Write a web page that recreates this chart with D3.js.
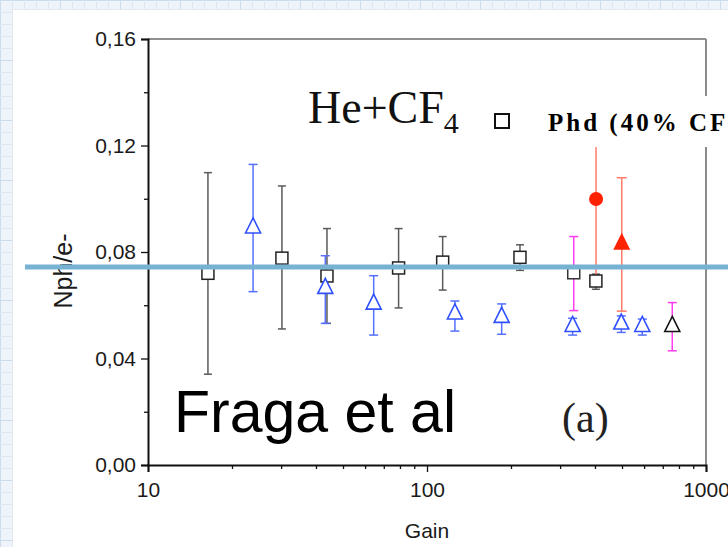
<!DOCTYPE html>
<html>
<head>
<meta charset="utf-8">
<script src="https://cdn.jsdelivr.net/npm/d3@7"></script>
<style>
  body { margin: 0; background: #fff; }
  svg { display: block; }
</style>
</head>
<body>
<svg id="viz" width="728" height="547"></svg>
<script>
// Nph/e- vs Gain (He+CF4)
const yTicks = [0, 0.04, 0.08, 0.12, 0.16];
const yMinor = [0.02, 0.06, 0.10, 0.14];
const xTicks = [10, 100, 1000];
const xMinor = [20, 30, 40, 50, 60, 70, 80, 90, 200, 300, 400, 500, 600, 700, 800, 900];

// black open squares, grey error bars
const sqGain = [16.4, 30.2, 43.8, 79.1, 113.8, 215.4, 403];
const sqVal  = [0.0720, 0.0777, 0.0710, 0.0740, 0.0762, 0.0780, 0.0691];
const sqLo   = [0.0341, 0.0511, 0.0532, 0.0590, 0.0657, 0.0731, 0.0660];
const sqHi   = [0.1098, 0.1048, 0.0888, 0.0888, 0.0858, 0.0827, 0.0717];

// blue open triangles
const triGain = [23.8, 43.2, 64.4, 125.9, 185.2, 332.6, 497, 591];
const triVal  = [0.0893, 0.0666, 0.0607, 0.0570, 0.0557, 0.0523, 0.0532, 0.0523];
const triLo   = [0.0651, 0.0532, 0.0488, 0.0503, 0.0491, 0.0488, 0.0498, 0.0488];
const triHi   = [0.1129, 0.0786, 0.0711, 0.0616, 0.0605, 0.0551, 0.0560, 0.0548];

// magenta error bars: square at 336, black triangle at 757
const magGain = [335.7, 757];
const magVal  = [0.0722, 0.0523];
const magLo   = [0.0580, 0.0429];
const magHi   = [0.0858, 0.0610];
const magSym  = ["square", "triangle"];

// red filled points
const redGain = [403.6, 499];
const redVal  = [0.0999, 0.0833];
const redLo   = [0.0701, 0.0578];
const redHi   = [0.1200, 0.1079];
const redSym  = ["circle", "triangle"];

const refLine = 0.0744;

const svg = d3.select("#viz");
const W = 728, H = 547;
const sans = "Liberation Sans, Arial, sans-serif";
const serif = "Liberation Serif, Times New Roman, serif";

// graph paper background
const defs = svg.append("defs");
const pat = defs.append("pattern").attr("id", "grid")
  .attr("width", 60).attr("height", 60).attr("patternUnits", "userSpaceOnUse");
pat.append("rect").attr("width", 60).attr("height", 60).attr("fill", "#eef4f9");
for (let i = 0; i < 60; i += 12) {
  const c = i === 0 ? "#c9dcec" : "#dbe7f1";
  pat.append("line").attr("x1", i + 0.5).attr("x2", i + 0.5).attr("y1", 0).attr("y2", 60).attr("stroke", c);
  pat.append("line").attr("y1", i + 0.5).attr("y2", i + 0.5).attr("x1", 0).attr("x2", 60).attr("stroke", c);
}
svg.append("rect").attr("width", W).attr("height", H).attr("fill", "url(#grid)");
svg.append("rect").attr("x", 12).attr("y", 9).attr("width", W).attr("height", H)
  .attr("fill", "#e4e8ec");
svg.append("rect").attr("x", 13).attr("y", 10).attr("width", W).attr("height", H)
  .attr("fill", "#fff");

const x = d3.scaleLog().domain([10, 1000]).range([148, 706]);
const y = d3.scaleLinear().domain([0, 0.16]).range([465, 39]);

const fmt = d => d3.format(".2f")(d).replace(".", ",");

// frame top / right
svg.append("line").attr("x1", x(10)).attr("x2", x(1000)).attr("y1", y(0.16)).attr("y2", y(0.16))
  .attr("stroke", "#222").attr("stroke-width", 1.2);
svg.append("line").attr("x1", x(1000)).attr("x2", x(1000)).attr("y1", y(0.16)).attr("y2", y(0))
  .attr("stroke", "#8a8a8a").attr("stroke-width", 2);

// axes
svg.append("g").attr("transform", `translate(${x(10)},0)`)
  .call(d3.axisLeft(y).tickValues(yTicks).tickFormat(fmt).tickSize(7).tickPadding(5));
svg.append("g").attr("transform", `translate(${x(10)},0)`)
  .call(d3.axisLeft(y).tickValues(yMinor).tickFormat("").tickSize(4))
  .select(".domain").remove();
svg.append("g").attr("transform", `translate(0,${y(0)})`)
  .call(d3.axisBottom(x).tickValues(xTicks).tickFormat(d3.format("d")).tickSize(7).tickPadding(10));
svg.append("g").attr("transform", `translate(0,${y(0)})`)
  .call(d3.axisBottom(x).tickValues(xMinor).tickFormat("").tickSize(4))
  .select(".domain").remove();

svg.selectAll(".domain").attr("stroke", "#111").attr("stroke-width", 2);
svg.selectAll(".tick line").attr("stroke", "#111").attr("stroke-width", 1.3);
svg.selectAll(".tick text").attr("font-family", sans)
  .attr("font-size", 21).attr("fill", "#1a1a1a");

// axis titles
svg.append("text").attr("x", x(100)).attr("y", 538).attr("text-anchor", "middle")
  .attr("font-family", sans).attr("font-size", 21).attr("fill", "#1a1a1a")
  .text("Gain");
svg.append("text").attr("transform", "translate(72,271) rotate(-90)").attr("text-anchor", "middle")
  .attr("font-family", sans).attr("font-size", 25).attr("fill", "#1a1a1a")
  .text("Nph/e-");

// error bar helper
function errBars(gain, lo, hi, color, cap) {
  const g = svg.append("g").attr("stroke", color).attr("stroke-width", 1.5);
  gain.forEach((d, i) => {
    const cx = x(d);
    g.append("line").attr("x1", cx).attr("x2", cx).attr("y1", y(lo[i])).attr("y2", y(hi[i]));
    [lo[i], hi[i]].forEach(v => {
      g.append("line").attr("x1", cx - cap).attr("x2", cx + cap).attr("y1", y(v)).attr("y2", y(v));
    });
  });
}

const triPath = s => `M0,${-s * 0.62}L${s / 2},${s * 0.38}L${-s / 2},${s * 0.38}Z`;

errBars(sqGain, sqLo, sqHi, "#5a5a5a", 4);
errBars(triGain, triLo, triHi, "#5570ff", 4.5);
errBars(magGain, magLo, magHi, "#ff3cf0", 4.5);
errBars(redGain, redLo, redHi, "#ff7a6a", 5);

// markers
svg.append("g").selectAll("rect").data(sqGain).join("rect")
  .attr("x", d => x(d) - 6).attr("y", (d, i) => y(sqVal[i]) - 6)
  .attr("width", 12).attr("height", 12)
  .attr("fill", "#fff").attr("stroke", "#222").attr("stroke-width", 1.5);

svg.append("g").selectAll("path").data(triGain).join("path")
  .attr("transform", (d, i) => `translate(${x(d)},${y(triVal[i])})`)
  .attr("d", triPath(15))
  .attr("fill", "#fff").attr("stroke", "#3050ff").attr("stroke-width", 1.6);

magGain.forEach((d, i) => {
  if (magSym[i] === "square") {
    svg.append("rect").attr("x", x(d) - 6).attr("y", y(magVal[i]) - 6)
      .attr("width", 12).attr("height", 12)
      .attr("fill", "#fff").attr("stroke", "#333").attr("stroke-width", 1.5);
  } else {
    svg.append("path").attr("transform", `translate(${x(d)},${y(magVal[i])})`)
      .attr("d", triPath(15))
      .attr("fill", "#fff").attr("stroke", "#111").attr("stroke-width", 1.6);
  }
});

redGain.forEach((d, i) => {
  if (redSym[i] === "circle") {
    svg.append("circle").attr("cx", x(d)).attr("cy", y(redVal[i])).attr("r", 7)
      .attr("fill", "#ff2200");
  } else {
    svg.append("path").attr("transform", `translate(${x(d)},${y(redVal[i])})`)
      .attr("d", triPath(17)).attr("fill", "#ff2200");
  }
});

// annotations
svg.append("text").attr("x", 308).attr("y", 123)
  .attr("font-family", serif).attr("font-size", 46).attr("fill", "#111")
  .text("He+CF")
  .append("tspan").attr("dy", 10).attr("font-size", 30).text("4");

// legend box (covers frame and top of red bar)
svg.append("rect").attr("x", 482).attr("y", 96).attr("width", 260).attr("height", 51).attr("fill", "#fff");
svg.append("rect").attr("x", 495).attr("y", 114).attr("width", 14).attr("height", 14)
  .attr("fill", "#fff").attr("stroke", "#111").attr("stroke-width", 2);
svg.append("text").attr("x", 548).attr("y", 131)
  .attr("font-family", serif).attr("font-weight", "bold")
  .attr("font-size", 25).attr("letter-spacing", 3).attr("fill", "#000")
  .text("Phd (40% CF");

svg.append("text").attr("x", 174).attr("y", 432)
  .attr("font-family", sans).attr("font-size", 59).attr("fill", "#000")
  .text("Fraga et al");
svg.append("text").attr("x", 562).attr("y", 432)
  .attr("font-family", serif).attr("font-size", 42).attr("fill", "#222")
  .text("(a)");

// reference line
svg.append("line").attr("x1", 25).attr("x2", W).attr("y1", y(refLine)).attr("y2", y(refLine))
  .attr("stroke", "#78b2d2").attr("stroke-width", 5);
</script>
</body>
</html>
